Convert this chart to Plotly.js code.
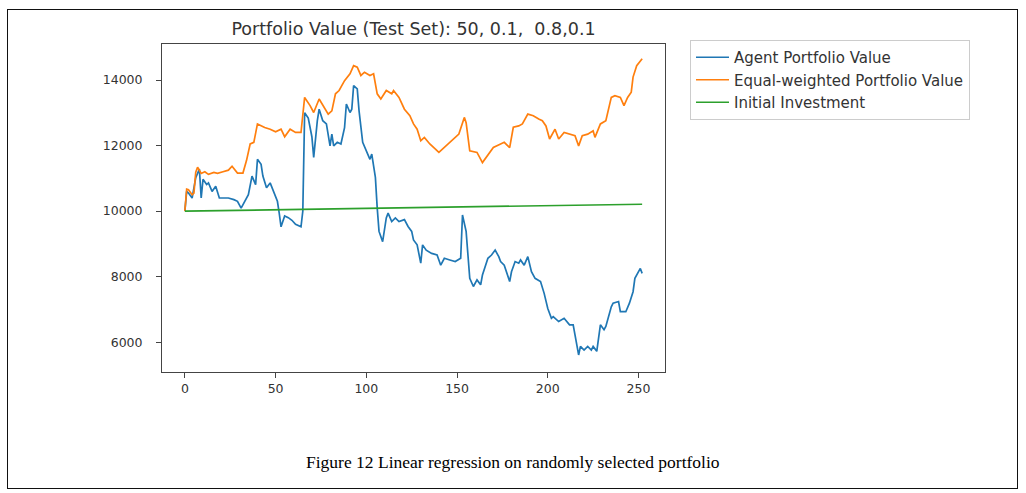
<!DOCTYPE html>
<html>
<head>
<meta charset="utf-8">
<script src="https://cdn.plot.ly/plotly-3.0.1.min.js"></script>
<style>
  html, body { margin: 0; padding: 0; background: #fff; }
  #wrap { position: relative; width: 1026px; height: 493px; }
  #chart { width: 1026px; height: 493px; }
  #frame { position: absolute; left: 7px; top: 9px; width: 1011px; height: 480px; border: 1.5px solid #111; pointer-events: none; box-sizing: border-box; }
</style>
</head>
<body>
<div id="wrap">
  <div id="chart"></div>
  <div id="frame"></div>
</div>
<script>
// ---- data ----
const chartTitle = "Portfolio Value (Test Set): 50, 0.1,  0.8,0.1";
const caption = "Figure 12 Linear regression on randomly selected portfolio";
const seriesNames = ["Agent Portfolio Value", "Equal-weighted Portfolio Value", "Initial Investment"];

const agentDays = [0, 1, 2, 4, 6, 8, 9, 10, 12, 13, 15, 17, 19, 21, 24, 27, 29, 31, 33, 35, 37, 39, 40, 42, 43, 45, 47, 49, 51, 52, 53, 55, 57, 59, 61, 64, 65,
  66, 68, 70, 71, 73, 74, 76, 78, 80, 81, 82, 84, 86, 88, 89, 91, 92, 93, 95, 96, 98, 100, 102, 103, 105, 106, 107, 109, 111, 112, 114, 116, 118, 121, 123, 125, 126, 128,
  130, 131, 133, 136, 139, 141, 143, 146, 149, 152, 153, 155, 157, 159, 161, 163, 164, 167, 169, 171, 173, 174, 176, 179, 180, 182, 184, 185, 187, 189, 191, 193, 196,
  198, 200, 202, 203, 206, 209, 212, 214, 215, 217, 218, 220, 222, 224, 225, 227, 229, 231, 232, 235, 236, 239, 240, 243, 245, 247, 248, 251, 252];
const agentValues = [10000, 10600, 10550, 10400, 11020, 11280, 10400, 10970, 10810, 10860, 10600, 10760, 10400, 10400, 10400, 10350, 10300, 10090, 10300, 10500, 11070, 10810, 11580, 11430, 11070, 10710, 10860, 10550, 10300, 9940, 9520, 9850, 9800, 9720, 9600, 9520, 10000,
  13000, 12840, 12270, 11640, 12760, 13110, 12760, 12660, 11990, 12350, 11990, 12100, 12050, 12550, 13270, 13010, 13110, 13830, 13730, 13060, 12100, 11840, 11580, 11740, 11030, 10100, 9380, 9070, 9790, 9940, 9680, 9790, 9680, 9740, 9530, 9380, 9120, 8970,
  8410, 8970, 8810, 8710, 8660, 8350, 8560, 8510, 8460, 8560, 9880, 9380, 7950, 7700, 7900, 7750, 8050, 8560, 8660, 8810, 8610, 8460, 8350, 7850, 8150, 8460, 8410, 8510, 8350, 8610, 8150, 7950, 7850,
  7490, 7030, 6730, 6780, 6630, 6730, 6530, 6530, 6220, 5610, 5870, 5760, 5870, 5760, 5870, 5720, 6530, 6380, 6480, 7080, 7190, 7240, 6930, 6930, 7190, 7540, 7950, 8250, 8100];

const equalDays = [0, 1, 2, 4, 5, 6, 7, 9, 11, 13, 16, 18, 21, 24, 26, 29, 32, 34, 36, 38, 40, 42, 44, 47, 50, 53, 55, 58, 61, 64,
  66, 69, 71, 74, 76, 79, 81, 83, 85, 88, 91, 93, 95, 97, 99, 102, 104, 106, 108, 111, 114, 115, 118, 121, 124, 126, 128,
  130, 132, 135, 140, 143, 147, 151, 154, 155, 157, 161, 164, 166, 170, 174, 176, 179, 181, 184, 186, 189, 192, 195, 197,
  199, 201, 204, 206, 209, 212, 215, 217, 219, 222, 225, 226, 229, 232, 235, 237, 240, 242, 244, 246, 247, 249, 252];
const equalValues = [10000, 10670, 10650, 10500, 10550, 11190, 11340, 11150, 11200, 11120, 11180, 11150, 11200, 11250, 11370, 11160, 11160, 11550, 12050, 12100, 12660, 12600, 12550, 12500, 12420, 12500, 12270, 12500, 12400, 12400,
  13470, 13220, 13010, 13420, 13220, 12960, 13060, 13580, 13680, 13980, 14190, 14440, 14390, 14140, 14240, 14140, 14190, 13580, 13420, 13680, 13580, 13680, 13470, 13110, 12910, 12660, 12500,
  12150, 12250, 12050, 11790, 11940, 12150, 12350, 12860, 12700, 11840, 11790, 11480, 11640, 11940, 12050, 12100, 11940, 12560, 12600, 12660, 12960, 12910, 12810, 12760,
  12600, 12200, 12500, 12200, 12400, 12350, 12300, 11990, 12300, 12350, 12450, 12250, 12660, 12760, 13470, 13520, 13470, 13220, 13470, 13630, 14090, 14440, 14650];

const initialDays = [0, 252];
const initialValues = [10000, 10210];

const xTickVals = [0, 50, 100, 150, 200, 250];
const yTickVals = [6000, 8000, 10000, 12000, 14000];

// ---- chart ----
const tickFont = { family: "DejaVu Sans", size: 12.5, color: "#333" };
const traces = [
  { x: agentDays, y: agentValues, name: seriesNames[0], type: "scatter", mode: "lines",
    line: { color: "#1f77b4", width: 1.7 }, legendgroup: "a" },
  { x: equalDays, y: equalValues, name: seriesNames[1], type: "scatter", mode: "lines",
    line: { color: "#ff7f0e", width: 1.7 }, legendgroup: "b" },
  { x: initialDays, y: initialValues, name: seriesNames[2], type: "scatter", mode: "lines",
    line: { color: "#2ca02c", width: 1.7 }, legendgroup: "c" }
];

const layout = {
  width: 1026, height: 493,
  margin: { l: 162, r: 361, t: 44, b: 121, pad: 0 },
  paper_bgcolor: "#fff", plot_bgcolor: "#fff",
  showlegend: true,
  title: { text: chartTitle, font: { family: "DejaVu Sans", size: 17.5, color: "#333" },
           x: 0.5, xref: "paper", xanchor: "center", y: 1 - 29 / 493, yref: "container", yanchor: "middle" },
  xaxis: { range: [-12.6, 264.6], tickvals: xTickVals, ticks: "outside", ticklen: 5, tickcolor: "#444",
           showline: true, mirror: true, linecolor: "#444", linewidth: 1, showgrid: false, zeroline: false,
           tickfont: tickFont },
  yaxis: { range: [5090, 15100], tickvals: yTickVals, tickformat: "d", ticks: "outside", ticklen: 5, tickcolor: "#444",
           showline: true, mirror: true, linecolor: "#444", linewidth: 1, showgrid: false, zeroline: false,
           tickfont: tickFont, ticklabelstandoff: 11 },
  legend: { x: (690 - 162) / 503, y: (372 - 40) / 328, xanchor: "left", yanchor: "top",
            bgcolor: "#fff", bordercolor: "#ccc", borderwidth: 1,
            font: { family: "DejaVu Sans", size: 15, color: "#333" },
            tracegroupgap: 0, itemwidth: 33 },
  annotations: [
    { text: caption, xref: "paper", yref: "paper", x: (513 - 162) / 503, y: (372 - 462) / 328,
      xanchor: "center", yanchor: "middle", showarrow: false,
      font: { family: "Liberation Serif", size: 17.5, color: "#000" } }
  ]
};

Plotly.newPlot("chart", traces, layout, { displayModeBar: false, staticPlot: true });
</script>
</body>
</html>
